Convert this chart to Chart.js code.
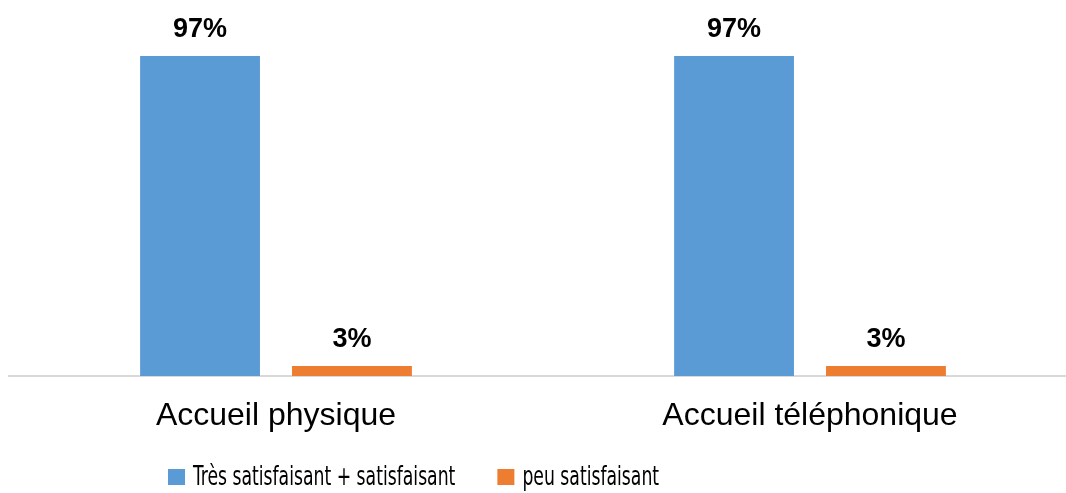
<!DOCTYPE html>
<html>
<head>
<meta charset="utf-8">
<script src="https://cdn.jsdelivr.net/npm/chart.js@4"></script>
<style>
html,body{margin:0;padding:0;background:#fff;overflow:hidden;width:1066px;height:493px;}
#wrap{position:absolute;left:0;top:0;width:1077px;height:493px;}
</style>
</head>
<body>
<div id="wrap"><canvas id="c"></canvas></div>
<script>
const categories = ["Accueil physique", "Accueil téléphonique"];
const seriesNames = ["Très satisfaisant + satisfaisant", "peu satisfaisant"];
const satisfied = [97, 97];
const unsatisfied = [3, 3];
const colors = ["#5B9BD5", "#ED7D31"];

const valueLabels = {
  id: 'valueLabels',
  afterDatasetsDraw(chart) {
    const ctx = chart.ctx;
    ctx.save();
    ctx.font = 'bold 27px "Liberation Sans", Arial, sans-serif';
    ctx.fillStyle = '#000';
    ctx.textAlign = 'center';
    ctx.textBaseline = 'alphabetic';
    chart.data.datasets.forEach((ds, i) => {
      const meta = chart.getDatasetMeta(i);
      meta.data.forEach((bar, j) => {
        ctx.fillText(ds.data[j] + '%', bar.x, bar.y - 19);
      });
    });
    ctx.restore();
  }
};

// Legend drawn with a horizontally condensed text (the original uses a narrow face)
const narrowLegend = {
  id: 'narrowLegend',
  afterDraw(chart) {
    const ctx = chart.ctx;
    ctx.save();
    ctx.font = '27px "DejaVu Sans Condensed", "DejaVu Sans", sans-serif';
    ctx.textBaseline = 'alphabetic';
    ctx.textAlign = 'left';
    const sx = 0.71;
    let x = 168;
    const boxTop = 469, baseline = 485;
    chart.data.datasets.forEach(ds => {
      ctx.fillStyle = ds.backgroundColor;
      ctx.fillRect(x, boxTop, 17, 16);
      const tx = x + 25;
      const w = ctx.measureText(ds.label).width * sx;
      ctx.save();
      ctx.translate(tx, baseline);
      ctx.scale(sx, 1);
      ctx.fillStyle = '#000';
      ctx.fillText(ds.label, 0, 0);
      ctx.restore();
      x = tx + w + 42;
    });
    ctx.restore();
  }
};

new Chart(document.getElementById('c'), {
  type: 'bar',
  data: {
    labels: categories,
    datasets: [
      { label: seriesNames[0], data: satisfied, backgroundColor: colors[0], categoryPercentage: 0.569, barPercentage: 0.789 },
      { label: seriesNames[1], data: unsatisfied, backgroundColor: colors[1], categoryPercentage: 0.569, barPercentage: 0.789 }
    ]
  },
  options: {
    responsive: true,
    maintainAspectRatio: false,
    animation: false,
    devicePixelRatio: 1,
    layout: { padding: { left: 9, right: 0, top: 46, bottom: 53 } },
    plugins: {
      tooltip: { enabled: false },
      legend: { display: false }
    },
    scales: {
      x: {
        grid: { display: false, drawTicks: false },
        border: { display: true, color: '#d9d9d9', width: 2 },
        ticks: {
          color: '#000',
          padding: 21,
          font: { family: '"Liberation Sans", Arial, sans-serif', size: 32 }
        },
        afterFit(scale) { scale.height = 64; }
      },
      y: {
        display: false,
        min: 0,
        max: 100
      }
    }
  },
  plugins: [valueLabels, narrowLegend]
});
</script>
</body>
</html>
